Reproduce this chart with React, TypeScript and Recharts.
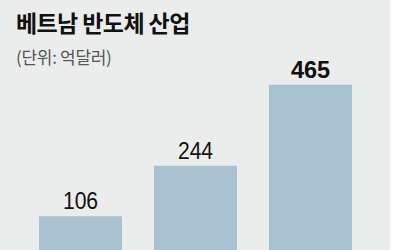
import { BarChart, Bar, XAxis, YAxis, LabelList } from "recharts";

const years = ["A", "B", "C"];
const values = [106, 244, 465];
const title = "베트남 반도체 산업";
const unit = "(단위: 억달러)";

const data = years.map((name, i) => ({ name, value: values[i] }));

const ValueLabel = (props: any) => {
  const { x, y, width, value, index } = props;
  const last = index === values.length - 1;
  const cx = x + width / 2;
  return (
    <text
      transform={`translate(${cx}, ${y - 7}) scale(${last ? 0.98 : 0.88}, 1)`}
      x={0}
      y={0}
      textAnchor="middle"
      fontFamily="Liberation Sans, Arial, sans-serif"
      fontSize={24}
      fontWeight={last ? 700 : 400}
      fill="#111"
    >
      {value}
    </text>
  );
};

export default function App() {
  return (
    <div
      style={{
        position: "absolute",
        left: 0,
        top: 0,
        width: 400,
        height: 250,
        overflow: "hidden",
        background: "#fff",
      }}
    >
      <div
        style={{
          position: "absolute",
          left: 0,
          top: 0,
          width: 390,
          height: 250,
          background: "#ebedec",
        }}
      >
        <div
          style={{
            position: "absolute",
            left: 16,
            top: 8,
            fontFamily: "'Noto Sans CJK KR', sans-serif",
            fontWeight: 700,
            fontSize: 23,
            lineHeight: "28px",
            letterSpacing: -0.6,
            color: "#111",
            whiteSpace: "nowrap",
          }}
        >
          {title}
        </div>
        <div
          style={{
            position: "absolute",
            left: 16,
            top: 45,
            fontFamily: "'Noto Sans CJK KR', sans-serif",
            fontSize: 17,
            lineHeight: "24px",
            letterSpacing: -0.3,
            color: "#555",
            whiteSpace: "nowrap",
          }}
        >
          {unit}
        </div>
        <div style={{ position: "absolute", left: 0, top: 0 }}>
          <BarChart
            width={390}
            height={260}
            data={data}
            margin={{ top: 72, right: 22, left: 23, bottom: 5 }}
          >
            <XAxis dataKey="name" hide />
            <YAxis domain={[0, 500]} hide />
            <Bar dataKey="value" fill="#a8c2d1" barSize={83} isAnimationActive={false}>
              <LabelList dataKey="value" content={<ValueLabel />} />
            </Bar>
          </BarChart>
        </div>
      </div>
    </div>
  );
}
